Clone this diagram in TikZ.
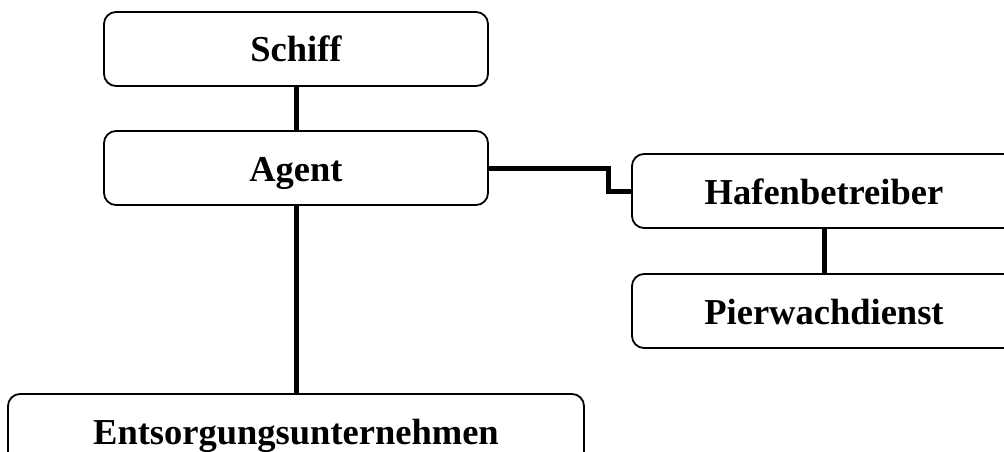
\documentclass[tikz,border=0pt]{standalone}
\usepackage{fontspec}
\setmainfont{Liberation Serif}
\usepackage{tikz}
\usetikzlibrary{calc}

\tikzset{
	party/.style={draw,line width=1.8pt,rounded corners=12pt,minimum width=384pt,minimum height=74pt,inner sep=0pt,text height=26pt,text depth=0pt,font=\fontsize{36.5}{40}\selectfont\bfseries},
	link/.style={line width=5pt}
}

\begin{document}
\begin{tikzpicture}[x=1pt,y=-1pt]
		\useasboundingbox (0,0) rectangle (1004,452);
		\node[party](schiff)at(296,49) {Schiff};
		\node[party](agent)at(296,168) {Agent};
		\node[party](hafen)at(824,191) {Hafenbetreiber};
		\node[party](pier)at(824,311) {Pierwachdienst};
		\node[party,minimum width=576pt](entsorgung)at(296,431) {Entsorgungsunternehmen};
		
		\draw[link](schiff) -- (agent);
		\draw[link](agent.east) -- ++(120,0) |- (hafen.west);
		\draw[link](hafen) -- (pier);
		\draw[link](agent) -- (entsorgung);
	\end{tikzpicture}
\end{document}
